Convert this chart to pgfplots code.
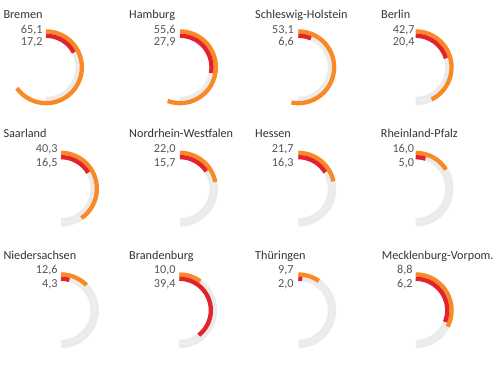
\documentclass[border=0pt]{standalone}
\usepackage{fontspec}
\setmainfont{Carlito}
\usepackage{pgfplots}
\usepackage{pgfplotstable}
\pgfplotsset{compat=1.18}
\definecolor{ringO}{RGB}{250,137,36}
\definecolor{ringR}{RGB}{226,35,45}
\definecolor{ringG}{RGB}{235,235,235}
\definecolor{titleC}{RGB}{51,51,51}
\definecolor{valC}{RGB}{85,85,85}
\pgfdeclareplotmark{nothing}{}

% positions in pixels of the 500x364 reference; ov/rv = arc length in percent of a full turn
\pgfplotstableread{
name cx cy ov rv olab rlab tx tby vx v1y v2y
Bremen 46 67.3 65.1 17.2 65,1 17,2 3.3 18.3 42.7 33 45.7
Hamburg 180 67.3 55.6 27.9 55,6 27,9 129 18.3 175.7 33 45.7
Schleswig-Holstein 298.3 67.3 53.1 6.6 53,1 6,6 255 18.3 294 33 45.7
Berlin 415.7 67.3 42.7 20.4 42,7 20,4 381 18.3 414.7 33 45.7
Saarland 61 188.7 40.3 16.5 40,3 16,5 3.3 137.3 57.7 152.3 166.3
Nordrhein-Westfalen 180 188.7 22.0 15.7 22,0 15,7 129 137.3 175.7 152.3 166.3
Hessen 298.3 188.7 21.7 16.3 21,7 16,3 255 137.3 293.7 152.3 166.3
Rheinland-Pfalz 415.7 188.7 16.0 5.0 16,0 5,0 380.7 137.3 414.3 152.3 166.3
Niedersachsen 61 310.3 12.6 4.3 12,6 4,3 3.3 259.3 57.7 273.7 287.3
Brandenburg 179.3 310.3 10.0 39.4 10,0 39,4 129 259.3 175.7 273.7 287.3
Thüringen 298.3 310.3 9.7 2.0 9,7 2,0 255 259.3 293.7 273.7 287.3
Mecklenburg-Vorpom. 415.7 310.3 32.5 31.0 8,8 6,2 381.7 259.3 412.7 273.7 287.3
}\data

\begin{document}
\begin{tikzpicture}
\begin{axis}[
  x=1pt, y=1pt, xmin=0, xmax=500, ymin=0, ymax=364, y dir=reverse,
  hide axis, clip=false, scale only axis,
]
% gray tracks (half turn)
\addplot[scatter, only marks, mark=nothing,
  scatter/@pre marker code/.code={%
    \draw[ringG, line width=4.1pt] (0pt,35.85pt) arc[start angle=90, end angle=-90, radius=35.85pt];
    \draw[ringG, line width=4.1pt] (0pt,31.55pt) arc[start angle=90, end angle=-90, radius=31.55pt];},
  scatter/@post marker code/.code={}]
  table[x=cx, y=cy] \data;
% orange (outer)
\addplot[scatter, only marks, mark=nothing,
  visualization depends on={\thisrow{ov} \as \ov},
  scatter/@pre marker code/.code={%
    \draw[ringO, line width=4.3pt] (0pt,35.85pt) arc[start angle=90, end angle={90-3.6*\ov}, radius=35.85pt];},
  scatter/@post marker code/.code={}]
  table[x=cx, y=cy] \data;
% red (inner)
\addplot[scatter, only marks, mark=nothing,
  visualization depends on={\thisrow{rv} \as \rv},
  scatter/@pre marker code/.code={%
    \draw[ringR, line width=4.3pt] (0pt,31.55pt) arc[start angle=90, end angle={90-3.6*\rv}, radius=31.55pt];},
  scatter/@post marker code/.code={}]
  table[x=cx, y=cy] \data;
% titles
\addplot[draw=none, mark=none, point meta=explicit symbolic, nodes near coords,
  nodes near coords style={anchor=base west, inner sep=0pt, text=titleC, font=\fontsize{12.2}{14}\selectfont}]
  table[x=tx, y=tby, meta=name] \data;
% first value
\addplot[draw=none, mark=none, point meta=explicit symbolic, nodes near coords,
  nodes near coords style={anchor=base east, inner sep=0pt, text=valC, font=\fontsize{12.2}{14}\selectfont}]
  table[x=vx, y=v1y, meta=olab] \data;
% second value
\addplot[draw=none, mark=none, point meta=explicit symbolic, nodes near coords,
  nodes near coords style={anchor=base east, inner sep=0pt, text=valC, font=\fontsize{12.2}{14}\selectfont}]
  table[x=vx, y=v2y, meta=rlab] \data;
\end{axis}
\path (current axis.south west) rectangle (current axis.north east);
\end{tikzpicture}
\end{document}
